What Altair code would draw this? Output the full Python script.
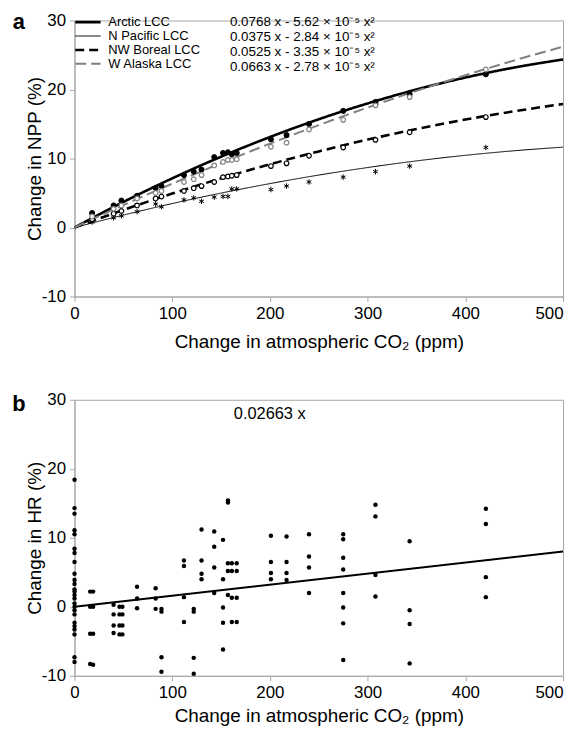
import altair as alt
import pandas as pd

FONT = "Liberation Sans"

# ---------------- Panel a data ----------------
series = ["Arctic LCC", "N Pacific LCC", "NW Boreal LCC", "W Alaska LCC"]
equations = [
    "0.0768 x - 5.62 × 10⁻⁵ x²",
    "0.0375 x - 2.84 × 10⁻⁵ x²",
    "0.0525 x - 3.35 × 10⁻⁵ x²",
    "0.0663 x - 2.78 × 10⁻⁵ x²",
]
line_colors = ["#000000", "#000000", "#000000", "#808080"]
line_dashes = [[1, 0], [1, 0], [9, 5], [11, 5]]
line_widths = [2.6, 1.0, 2.6, 2.0]

# fitted curves
curve_x = [0, 50, 100, 150, 200, 250, 300, 350, 400, 450, 500]
curve_arctic = [0, 3.70, 7.12, 10.26, 13.11, 15.69, 17.98, 20.00, 21.73, 23.18, 24.35]
curve_npac = [0, 1.80, 3.47, 4.99, 6.36, 7.60, 8.69, 9.65, 10.46, 11.12, 11.65]
curve_nwb = [0, 2.54, 4.92, 7.12, 9.16, 11.03, 12.74, 14.27, 15.64, 16.84, 17.90]
curve_wak = [0, 3.25, 6.35, 9.32, 12.15, 14.84, 17.39, 19.80, 22.07, 24.21, 26.20]

# simulated points
npp_x = [18, 40, 48, 64, 83, 89, 112, 122, 130, 143, 152, 157, 161, 166,
         201, 217, 240, 275, 308, 343, 421]
npp_arctic = [2.1, 3.2, 3.9, 4.6, 5.7, 6.0, 7.6, 8.1, 8.4, 10.2, 10.8, 10.9, 10.6, 10.8,
              12.8, 13.4, 15.0, 16.9, 18.2, 19.3, 22.2]
npp_npac = [0.8, 1.4, 1.7, 2.3, 3.4, 3.0, 4.0, 4.3, 3.8, 4.4, 4.5, 4.5, 5.6, 5.6,
            5.5, 6.0, 6.6, 7.3, 8.1, 8.9, 11.6]
npp_nwb = [1.2, 2.0, 2.4, 3.2, 4.2, 4.5, 5.3, 5.7, 6.0, 6.6, 7.3, 7.4, 7.5, 7.6,
           8.9, 9.3, 10.4, 11.6, 12.7, 13.8, 16.0]
npp_wak = [1.6, 2.7, 3.2, 4.2, 5.0, 5.3, 6.6, 7.0, 7.6, 9.0, 9.5, 9.8, 9.8, 9.9,
           11.7, 12.3, 14.2, 15.6, 17.7, 18.9, 22.9]

# ---------------- Panel b data ----------------
hr_x = ([0] * 25 + [16] * 4 + [19] * 4 + [40] * 4 + [46] * 4 + [49] * 4 + [64] * 3
        + [83] * 3 + [89] * 4 + [112] * 4 + [122] * 4 + [130] * 4 + [143] * 4
        + [152] * 5 + [157] * 5 + [161] * 4 + [166] * 4 + [201] * 4 + [217] * 4
        + [240] * 4 + [275] * 8 + [308] * 4 + [343] * 4 + [421] * 4)
hr_y = ([18.4, 14.3, 13.5, 11.1, 10.5, 8.4, 7.8, 6.5, 4.8, 3.9, 3.3, 2.5, 2.2, 1.7, 1.2,
         0.5, 0.0, -0.5, -1.1, -2.3, -2.8, -3.3, -4.0, -7.3, -8.0]
        + [2.2, 0.0, -3.9, -8.3] + [2.2, 0.0, -3.9, -8.4]
        + [0.3, -1.1, -2.7, -3.8] + [0.0, -1.1, -2.7, -4.0] + [0.0, -1.1, -2.7, -4.0]
        + [2.9, 1.2, -0.2] + [2.7, 1.2, -0.3] + [-0.3, -0.7, -7.3, -9.4]
        + [6.7, 5.9, 1.4, -2.2] + [-0.3, -0.7, -7.4, -9.7] + [11.2, 6.7, 4.8, 4.0]
        + [10.9, 8.7, 5.7, 2.0] + [9.7, 4.0, -0.1, -2.3, -6.2] + [15.4, 15.1, 6.3, 5.2, 1.7]
        + [6.3, 5.2, 1.3, -2.2] + [6.3, 5.2, 1.3, -2.2] + [10.3, 6.5, 4.9, 4.0]
        + [10.2, 6.5, 4.9, 3.9] + [10.5, 7.3, 5.7, 2.0]
        + [10.5, 9.8, 7.1, 5.4, 2.0, -0.1, -2.4, -7.7] + [14.8, 13.1, 4.6, 1.5]
        + [9.5, -0.5, -2.5, -8.2] + [14.2, 12.0, 4.3, 1.4])
hr_fit_x = [0, 500]
hr_fit_y = [0.0, 8.0]
hr_label = ["0.02663 x"]
hr_label_x = [163]
hr_label_y = [27.9]

x_ticks = [0, 100, 200, 300, 400, 500]
y_ticks = [-10, 0, 10, 20, 30]

# ---------------- Build tables ----------------
curve_vals = [curve_arctic, curve_npac, curve_nwb, curve_wak]
curves = pd.DataFrame([
    {"series": s, "eq": e, "x": x, "y": y}
    for s, e, ys in zip(series, equations, curve_vals)
    for x, y in zip(curve_x, ys)
])
pt_vals = [npp_arctic, npp_npac, npp_nwb, npp_wak]
points = pd.DataFrame([
    {"series": s, "x": x, "y": y}
    for s, ys in zip(series, pt_vals)
    for x, y in zip(npp_x, ys)
])
hr = pd.DataFrame({"x": hr_x, "y": hr_y})
hr_fit = pd.DataFrame({"x": hr_fit_x, "y": hr_fit_y})
hr_txt = pd.DataFrame({"x": hr_label_x, "y": hr_label_y, "t": hr_label})

W, H = 492, 278
XT = "Change in atmospheric CO₂ (ppm)"
last_right = {"condition": {"test": "datum.value == 500", "value": "right"}, "value": "center"}


def xaxis(title_pad):
    return alt.Axis(values=x_ticks, title=XT, titlePadding=title_pad,
                    labelAlign=last_right, labelExpr="replace(datum.label, '−', '-')")


def yaxis(title):
    return alt.Axis(values=y_ticks, title=title, titlePadding=-3,
                    labelExpr="replace(datum.label, '−', '-')")


xs = alt.Scale(domain=[0, 500], nice=False, zero=False)
ys = alt.Scale(domain=[-10, 30], nice=False)

# ---- panel a ----
leg_series = alt.Legend(
    orient="none", legendX=-1, legendY=-5, title=None,
    symbolType="stroke", symbolSize=650,
    labelFont=FONT, labelFontSize=13, labelColor="black",
    rowPadding=0, clipHeight=13.3, labelOffset=6,
)
leg_eq = alt.Legend(
    orient="none", legendX=139, legendY=-5, title=None,
    symbolSize=0, symbolStrokeWidth=0, symbolOpacity=0, symbolType="circle",
    labelFont=FONT, labelFontSize=13.5, labelColor="black",
    rowPadding=0, clipHeight=13.3, labelOffset=4,
)

lines = alt.Chart(curves).mark_line(interpolate="monotone").encode(
    x=alt.X("x:Q", scale=xs, axis=xaxis(11.5)),
    y=alt.Y("y:Q", scale=ys, axis=yaxis("Change in NPP (%)")),
    color=alt.Color("series:N", scale=alt.Scale(domain=series, range=line_colors), legend=leg_series),
    strokeDash=alt.StrokeDash("series:N", scale=alt.Scale(domain=series, range=line_dashes), legend=leg_series),
    strokeWidth=alt.StrokeWidth("series:N", scale=alt.Scale(type="ordinal", domain=series, range=line_widths), legend=leg_series),
    opacity=alt.Opacity("eq:N", scale=alt.Scale(domain=equations, range=[1, 1, 1, 1]), legend=leg_eq),
)

star = "M0,-1L0,1M-0.87,-0.5L0.87,0.5M-0.87,0.5L0.87,-0.5"
pt_styles = {
    "Arctic LCC": dict(shape="circle", filled=True, fill="black", stroke="black", size=26, strokeWidth=1),
    "N Pacific LCC": dict(shape=star, filled=False, stroke="black", size=30, strokeWidth=1),
    "NW Boreal LCC": dict(shape="circle", filled=True, fill="white", stroke="black", size=22, strokeWidth=1.2),
    "W Alaska LCC": dict(shape="circle", filled=True, fill="white", stroke="#808080", size=22, strokeWidth=1.2),
}
pt_layers = []
for s in series:
    pt_layers.append(
        alt.Chart(points).transform_filter(alt.datum.series == s)
        .mark_point(opacity=1, **pt_styles[s])
        .encode(x=alt.X("x:Q", scale=xs), y=alt.Y("y:Q", scale=ys))
    )

lab_a = alt.Chart(pd.DataFrame({"t": ["a"]})).mark_text(
    font=FONT, fontSize=22, fontWeight="bold", align="center", baseline="middle", color="black"
).encode(text="t:N", x=alt.value(-56), y=alt.value(2))

panel_a = alt.layer(lines, *pt_layers, lab_a).properties(width=W, height=H)

# ---- panel b ----
hr_pts = alt.Chart(hr).mark_circle(size=20, color="black", opacity=1).encode(
    x=alt.X("x:Q", scale=xs, axis=xaxis(6)),
    y=alt.Y("y:Q", scale=ys, axis=yaxis("Change in HR (%)")),
)
hr_line = alt.Chart(hr_fit).mark_line(color="black", strokeWidth=2).encode(
    x=alt.X("x:Q", scale=xs), y=alt.Y("y:Q", scale=ys)
)
hr_lab = alt.Chart(hr_txt).mark_text(
    font=FONT, fontSize=16.5, align="left", baseline="middle", color="black"
).encode(x=alt.X("x:Q", scale=xs), y=alt.Y("y:Q", scale=ys), text="t:N")
lab_b = alt.Chart(pd.DataFrame({"t": ["b"]})).mark_text(
    font=FONT, fontSize=22, fontWeight="bold", align="center", baseline="middle", color="black"
).encode(text="t:N", x=alt.value(-56), y=alt.value(4))

panel_b = alt.layer(hr_pts, hr_line, hr_lab, lab_b).properties(width=W, height=H)

chart = alt.vconcat(panel_a, panel_b, spacing=38).properties(
    padding={"left": 3, "top": 0, "right": 0, "bottom": 0}
).configure_view(
    stroke="#a6a6a6", strokeWidth=1
).configure_axis(
    grid=False, domainColor="#a6a6a6", tickColor="#a6a6a6", tickSize=5,
    labelFont=FONT, labelFontSize=17, labelColor="black", labelPadding=4,
    titleFont=FONT, titleFontSize=19, titleFontWeight="normal", titleColor="black",
)

chart.save("out.html", embed_options={"renderer": "svg", "actions": False})
